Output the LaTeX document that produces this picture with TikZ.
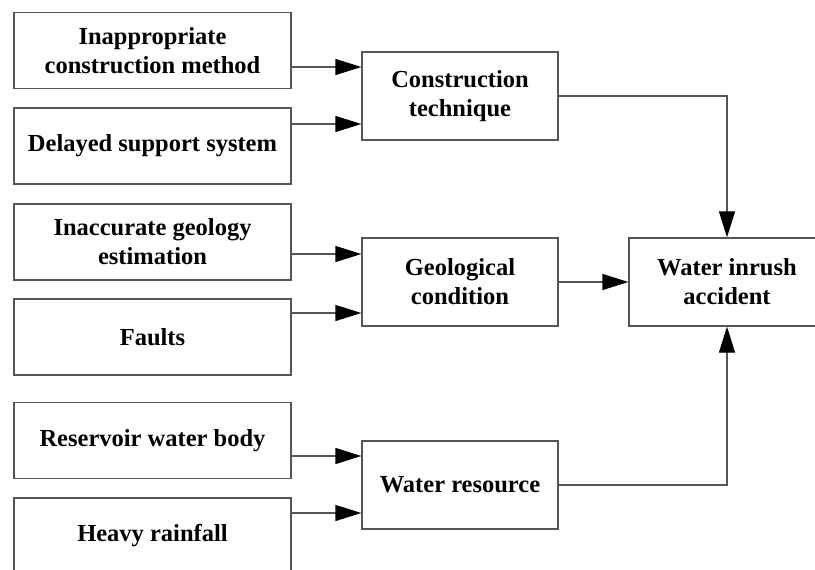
\documentclass[tikz,border=0pt]{standalone}
\usepackage{fontspec}
\setmainfont{Liberation Serif}
\usetikzlibrary{arrows.meta}
\definecolor{linegray}{HTML}{555555}
\tikzset{
  box/.style={draw=linegray, line width=1.3pt, fill=white, align=center,
    font=\fontsize{24.5}{29}\selectfont\bfseries, inner sep=0pt},
  leftbox/.style={box, minimum width=277pt, minimum height=76pt},
  midbox/.style={box, minimum width=196pt, minimum height=88pt},
  conn/.style={draw=linegray, line width=1.3pt, -{Triangle[length=26pt,width=16pt,color=black]}},
}
\begin{document}
\begin{tikzpicture}[x=1pt,y=-1pt]
\useasboundingbox (0,0) rectangle (815,570);
\clip (0,0) rectangle (815,570);
\fill[white] (0,0) rectangle (815,570);
% left boxes
\node[leftbox] (a1) at (152.5,50.25) {Inappropriate\\construction method};
\node[leftbox] (a2) at (152.5,146) {Delayed support system};
\node[leftbox] (b1) at (152.5,242) {Inaccurate geology\\estimation};
\node[leftbox] (b2) at (152.5,337) {Faults};
\node[leftbox] (c1) at (152.5,440.5) {Reservoir water body};
\node[leftbox] (c2) at (152.5,536) {Heavy rainfall};
% middle boxes
\node[midbox] (ct) at (460,96) {Construction\\technique};
\node[midbox] (gc) at (460,282) {Geological\\condition};
\node[midbox] (wr) at (460,485) {Water resource};
% result
\node[midbox] (wi) at (727,282) {Water inrush\\accident};
% connectors
\draw[conn] (a1.east |- 0,67) -- (ct.west |- 0,67);
\draw[conn] (a2.east |- 0,124) -- (ct.west |- 0,124);
\draw[conn] (b1.east |- 0,254) -- (gc.west |- 0,254);
\draw[conn] (b2.east |- 0,313) -- (gc.west |- 0,313);
\draw[conn] (c1.east |- 0,456) -- (wr.west |- 0,456);
\draw[conn] (c2.east |- 0,513) -- (wr.west |- 0,513);
\draw[conn] (ct.east) -| (wi.north);
\draw[conn] (gc.east) -- (wi.west);
\draw[conn] (wr.east) -| (wi.south);
\end{tikzpicture}
\end{document}
